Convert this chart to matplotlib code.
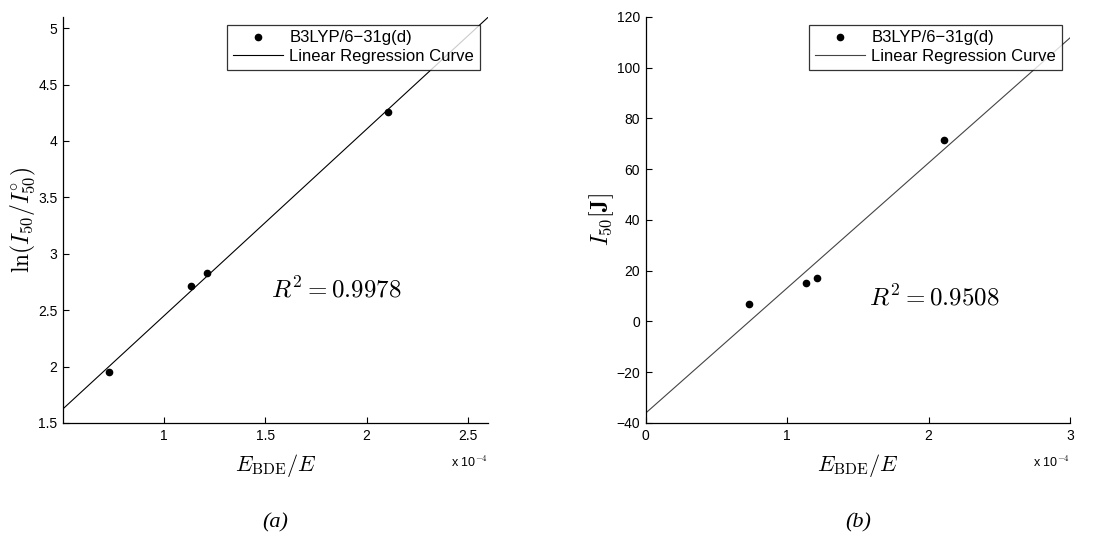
import numpy as np
import matplotlib
matplotlib.use("Agg")
import matplotlib.pyplot as plt

plt.rcParams["font.family"] = ["Liberation Sans", "DejaVu Sans"]
plt.rcParams["mathtext.fontset"] = "cm"

# E_BDE/E in units of 1e-4
e_ratio = [0.727, 1.130, 1.210, 2.108]
# ln(I50 / I50°)
ln_ratio = [1.95, 2.71, 2.83, 4.26]
# I50 in J
i50 = [7.0, 15.2, 17.1, 71.3]

r2_a = 0.9978
r2_b = 0.9508

fig = plt.figure(figsize=(11, 5.54), dpi=100)
ax_a = fig.add_axes([0.0573, 0.2365, 0.3864, 0.733])
ax_b = fig.add_axes([0.587, 0.2365, 0.3857, 0.733])


def draw_panel(ax, x, y, xlim, ylim, xticks, yticks, line_color, ylabel, r2, r2_pos, tag):
    x = np.array(x)
    y = np.array(y)
    slope, icept = np.polyfit(x, y, 1)
    xs = np.array(xlim)
    ax.plot(x, y, "o", color="black", markersize=4.5, label="B3LYP/6\u221231g(d)")
    ax.plot(xs, slope * xs + icept, "-", color=line_color, lw=0.8,
            label="Linear Regression Curve")
    ax.set_xlim(xlim)
    ax.set_ylim(ylim)
    ax.set_xticks(xticks)
    ax.set_yticks(yticks)
    ax.set_xticklabels([f"{t:g}".replace("-", "\u2212") for t in xticks])
    ax.set_yticklabels([f"{t:g}".replace("-", "\u2212") for t in yticks])
    ax.spines["top"].set_visible(False)
    ax.spines["right"].set_visible(False)
    ax.spines["left"].set_linewidth(0.9)
    ax.spines["bottom"].set_linewidth(0.9)
    ax.tick_params(direction="in", length=4, width=0.8, labelsize=10, pad=4)
    ax.set_xlabel(r"$E_{\rm BDE}/E$", fontsize=16, labelpad=7)
    ax.set_ylabel(ylabel, fontsize=17, labelpad=0)
    leg = ax.legend(loc="upper right", bbox_to_anchor=(0.981, 0.981), fontsize=12,
                    frameon=True, fancybox=False, edgecolor="black",
                    handlelength=3.0, borderpad=0.35, labelspacing=0.22,
                    handletextpad=0.4, borderaxespad=0)
    leg.get_frame().set_linewidth(0.9)
    ax.text(r2_pos[0], r2_pos[1], rf"$R^2 = {r2}$", transform=ax.transAxes,
            ha="center", va="center", fontsize=18)
    ax.text(1.0, -0.098, r"x 10$^{-4}$", transform=ax.transAxes,
            ha="right", va="center", fontsize=9)
    ax.text(0.5, -0.245, tag, transform=ax.transAxes, ha="center", va="center",
            fontsize=16, family="Liberation Serif", style="italic")


draw_panel(ax_a, e_ratio, ln_ratio, (0.5, 2.6), (1.5, 5.1),
           [1, 1.5, 2, 2.5], [1.5, 2, 2.5, 3, 3.5, 4, 4.5, 5], "black",
           r"$\ln(I_{50}/I_{50}^{\circ})$", r2_a, (0.642, 0.328), "(a)")
draw_panel(ax_b, e_ratio, i50, (0, 3), (-40, 120),
           [0, 1, 2, 3], [-40, -20, 0, 20, 40, 60, 80, 100, 120], "#444444",
           r"$I_{50}[\mathbf{J}]$", r2_b, (0.681, 0.309), "(b)")

fig.savefig("out.png", dpi=100)
